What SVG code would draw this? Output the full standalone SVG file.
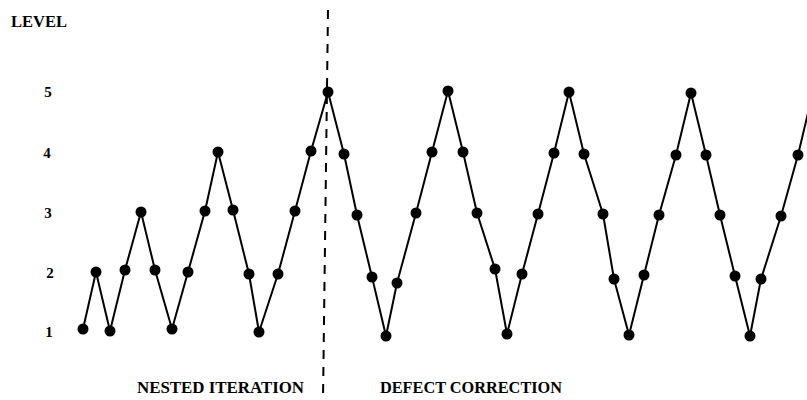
<svg xmlns="http://www.w3.org/2000/svg" width="807" height="400" viewBox="0 0 807 400">
<style>
.t{font-family:"Liberation Serif","Times New Roman",serif;font-size:16px;fill:#000;font-weight:bold}
.d{font-family:"Liberation Serif","Times New Roman",serif;font-size:15px;fill:#000;font-weight:bold;text-anchor:middle}
.ln{fill:none;stroke:#000;stroke-width:2;stroke-linejoin:round}
.dash{stroke:#000;stroke-width:2;stroke-dasharray:9 8}
.pt circle{fill:#000}
</style>
<rect width="807" height="400" fill="#fff"/>
<g id="labels">
<text class="t" x="11" y="27" textLength="56" lengthAdjust="spacingAndGlyphs">LEVEL</text>
<text class="d" x="48" y="97">5</text>
<text class="d" x="47" y="158">4</text>
<text class="d" x="48" y="218">3</text>
<text class="d" x="50" y="278">2</text>
<text class="d" x="49" y="337">1</text>
<text class="t" x="137" y="393" textLength="167" lengthAdjust="spacingAndGlyphs">NESTED ITERATION</text>
<text class="t" x="380" y="393" textLength="182" lengthAdjust="spacingAndGlyphs">DEFECT CORRECTION</text>
</g>
<g id="divider">
<line class="dash" x1="328" y1="10" x2="323" y2="400"/>
</g>
<g id="connectors">
<polyline class="ln" points="83,329 96,272 110,331 125,270 141,212 155,270 172,329 188,272 205,211 218,152 233,210 249,274 259,332 278,274 295,211 311,151 328,92 344,154 357,215 372,277 386,336 397,283 416,213 432,152 448,91 463,152 477,213 495,269 507,334 522,274 538,214 554,153 569,92 584,154 603,214 614,279 629,335 644,275 659,215 676,155 691,93 706,155 720,215 735,276 750,336 761,279 781,216 798,155 813,92"/>
</g>
<g id="points" class="pt">
<circle cx="83" cy="329" r="5.5"/><circle cx="96" cy="272" r="5.5"/><circle cx="110" cy="331" r="5.5"/><circle cx="125" cy="270" r="5.5"/><circle cx="141" cy="212" r="5.5"/><circle cx="155" cy="270" r="5.5"/><circle cx="172" cy="329" r="5.5"/><circle cx="188" cy="272" r="5.5"/><circle cx="205" cy="211" r="5.5"/><circle cx="218" cy="152" r="5.5"/><circle cx="233" cy="210" r="5.5"/><circle cx="249" cy="274" r="5.5"/><circle cx="259" cy="332" r="5.5"/><circle cx="278" cy="274" r="5.5"/><circle cx="295" cy="211" r="5.5"/><circle cx="311" cy="151" r="5.5"/><circle cx="328" cy="92" r="5.5"/>
<circle cx="344" cy="154" r="5.5"/><circle cx="357" cy="215" r="5.5"/><circle cx="372" cy="277" r="5.5"/><circle cx="386" cy="336" r="5.5"/><circle cx="397" cy="283" r="5.5"/><circle cx="416" cy="213" r="5.5"/><circle cx="432" cy="152" r="5.5"/><circle cx="448" cy="91" r="5.5"/><circle cx="463" cy="152" r="5.5"/><circle cx="477" cy="213" r="5.5"/><circle cx="495" cy="269" r="5.5"/><circle cx="507" cy="334" r="5.5"/><circle cx="522" cy="274" r="5.5"/><circle cx="538" cy="214" r="5.5"/><circle cx="554" cy="153" r="5.5"/><circle cx="569" cy="92" r="5.5"/><circle cx="584" cy="154" r="5.5"/><circle cx="603" cy="214" r="5.5"/><circle cx="614" cy="279" r="5.5"/><circle cx="629" cy="335" r="5.5"/><circle cx="644" cy="275" r="5.5"/><circle cx="659" cy="215" r="5.5"/><circle cx="676" cy="155" r="5.5"/><circle cx="691" cy="93" r="5.5"/><circle cx="706" cy="155" r="5.5"/><circle cx="720" cy="215" r="5.5"/><circle cx="735" cy="276" r="5.5"/><circle cx="750" cy="336" r="5.5"/><circle cx="761" cy="279" r="5.5"/><circle cx="781" cy="216" r="5.5"/><circle cx="798" cy="155" r="5.5"/>
</g>
</svg>
